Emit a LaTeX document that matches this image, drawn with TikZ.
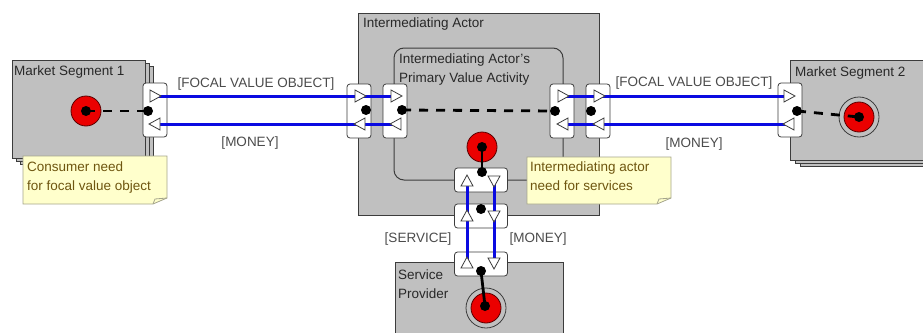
\documentclass[tikz,border=0pt]{standalone}
\usepackage{fontspec}
\setmainfont{Liberation Sans}
\definecolor{boxgray}{RGB}{192,192,192}
\definecolor{boxline}{RGB}{60,60,60}
\definecolor{flowblue}{RGB}{10,10,225}
\definecolor{stimred}{RGB}{235,0,0}
\definecolor{stimline}{RGB}{90,0,0}
\definecolor{noteyellow}{RGB}{255,255,204}
\definecolor{noteline}{RGB}{165,165,140}
\definecolor{notetext}{RGB}{110,85,15}
\definecolor{titletext}{RGB}{40,40,40}
\definecolor{flowtext}{RGB}{75,75,75}

\tikzset{
  actorbox/.style   = {draw=boxline, fill=boxgray, line width=1pt},
  portbox/.style    = {draw=boxline, fill=white, rounded corners=3pt, line width=0.8pt, inner sep=0pt},
  vport/.style      = {portbox, minimum width=24pt, minimum height=54pt},
  hport/.style      = {portbox, minimum width=53pt, minimum height=24pt},
  portdot/.style    = {circle, fill=black, inner sep=0pt, minimum size=10pt},
  flow/.style       = {draw=flowblue, line width=3pt},
  dependency/.style = {draw=black, line width=2.8pt},
  dashdep/.style    = {dependency, dash pattern=on 9pt off 8pt},
  startstim/.style  = {circle, draw=stimline, fill=stimred, line width=0.8pt, minimum size=30pt, inner sep=0pt},
  endring/.style    = {circle, draw=boxline, fill=boxgray, line width=0.8pt, minimum size=40pt, inner sep=0pt},
  boxtitle/.style   = {anchor=north west, inner sep=0pt, text=titletext, align=left},
  notetitle/.style  = {anchor=north west, inner sep=0pt, text=notetext, align=left},
  flowname/.style   = {anchor=base, inner sep=0pt, text=flowtext},
  notebox/.style    = {draw=noteline, fill=noteyellow, line width=0.8pt},
  tri/.pic          = {\filldraw[draw=boxline, fill=white, line width=0.8pt] (-5,-6) -- (6,0) -- (-5,6) -- cycle;}
}

\begin{document}
\begin{tikzpicture}[x=1pt, y=-1pt, font=\fontsize{13.5}{19}\selectfont]
        \useasboundingbox (0,0) rectangle (923,332);
        % actors and market segments
            \filldraw[actorbox] ( 20, 66) rectangle (153,164);
            \filldraw[actorbox] ( 16, 63) rectangle (149,161);
            \filldraw[actorbox] ( 12, 60) rectangle (145,158);
            \filldraw[actorbox] (800, 66) rectangle (945,166);
            \filldraw[actorbox] (795, 63) rectangle (940,163);
            \filldraw[actorbox] (790, 60) rectangle (935,160);
            \filldraw[actorbox] (358, 13) rectangle (599,215);
            \filldraw[actorbox] (395,262) rectangle (563,345);
            \draw[boxline, line width=1pt, rounded corners=10pt] (394,48) rectangle (563,180);
        \node[boxtitle] (ms1title) at ( 14, 65.3) {Market Segment 1};
        \node[boxtitle] (ms2title) at (795, 66.3) {Market Segment 2};
        \node[boxtitle] (iatitle)  at (363, 17.3) {Intermediating Actor};
        \node[boxtitle] (pvtitle)  at (399, 53.3) {Intermediating Actor\symbol{"27}s\\Primary Value Activity};
        \node[boxtitle] (sptitle)  at (398,269.3) {Service\\Provider};
        % notes
            \filldraw[notebox] ( 23,156) -- (167,156) -- (167,198) -- (153,204) -- ( 23,204) -- cycle;
            \draw[noteline, line width=0.8pt] (167,198) -- (155,199) -- (153,204);
            \filldraw[notebox] (527,157) -- (671,157) -- (671,198) -- (657,204) -- (527,204) -- cycle;
            \draw[noteline, line width=0.8pt] (671,198) -- (659,199) -- (657,204);
        \node[notetitle] (ms1note) at ( 27,161.2) {Consumer need\\for focal value object};
        \node[notetitle] (ianote)  at (530,161.2) {Intermediating actor\\need for services};
        % ports
        \node[vport] (pms1) at (155,110) {};
        \node[vport] (pial) at (359,111) {};
        \node[vport] (ppvl) at (395,111) {};
        \node[vport] (ppvr) at (562,111) {};
        \node[vport] (piar) at (598,111) {};
        \node[vport] (pms2) at (790,110) {};
        \node[hport] (ppvb) at (481,180) {};
        \node[hport] (piab) at (481,216) {};
        \node[hport] (psp)  at (481,264) {};
        % value exchanges
        \coordinate (ms1out) at (155, 96);  \coordinate (ms1in) at (155,124);
        \coordinate (ialout) at (360, 96);  \coordinate (ialin) at (360,124);
        \coordinate (pvlout) at (396, 96);  \coordinate (pvlin) at (396,124);
        \coordinate (pvrout) at (563, 96);  \coordinate (pvrin) at (563,124);
        \coordinate (iarout) at (599, 96);  \coordinate (iarin) at (599,124);
        \coordinate (ms2out) at (789, 96);  \coordinate (ms2in) at (789,124);
        \coordinate (pvbsv)  at (467,181);  \coordinate (pvbmo) at (494,181);
        \coordinate (iabsv)  at (467,216);  \coordinate (iabmo) at (494,216);
        \coordinate (spsv)   at (467,263);  \coordinate (spmo)  at (494,263);
            \draw[flow] (ms1out) -- (ialout) -- (pvlout);
            \draw[flow] (ms1in)  -- (ialin)  -- (pvlin);
            \draw[flow] (pvrout) -- (iarout) -- (ms2out);
            \draw[flow] (pvrin)  -- (iarin)  -- (ms2in);
            \draw[flow] (pvbsv)  -- (iabsv)  -- (spsv);
            \draw[flow] (pvbmo)  -- (iabmo)  -- (spmo);
        \foreach \c in {ms1out, ialout, pvlout, pvrout, iarout, ms2out}
            \pic at (\c) {tri};
        \foreach \c in {ms1in, ialin, pvlin, pvrin, iarin, ms2in}
            \pic[rotate=180] at (\c) {tri};
        \foreach \c in {pvbsv, iabsv, spsv}
            \pic[rotate=90] at (\c) {tri};
        \foreach \c in {pvbmo, iabmo, spmo}
            \pic[rotate=-90] at (\c) {tri};
        \node[flowname] (fvo1)  at (256, 87) {[FOCAL VALUE OBJECT]};
        \node[flowname] (mon1)  at (250,146) {[MONEY]};
        \node[flowname] (fvo2)  at (694, 86) {[FOCAL VALUE OBJECT]};
        \node[flowname] (mon2)  at (694,147) {[MONEY]};
        \node[flowname] (serv)  at (418,242) {[SERVICE]};
        \node[flowname] (mon3)  at (538,242) {[MONEY]};
        % stimuli
        \node[startstim] (ms1need) at ( 86,111) {};
        \node[startstim] (ianeed)  at (482,147) {};
        \node[endring]   (ms2ring) at (859,117) {};
        \node[startstim] (ms2end)  at (859,117) {};
        \node[endring]   (spring)  at (486,308) {};
        \node[startstim] (spend)   at (486,308) {};
        % dots and dependency paths
        \node[portdot] (dms1need) at ( 86,111) {};
        \node[portdot] (dianeed)  at (482,147) {};
        \node[portdot] (dms2end)  at (859,117) {};
        \node[portdot] (dspend)   at (485,306) {};
        \node[portdot] (dpms1)    at (148,111) {};
        \node[portdot] (dpial)    at (366,110) {};
        \node[portdot] (dppvl)    at (402,110) {};
        \node[portdot] (dppvr)    at (555,111) {};
        \node[portdot] (dpiar)    at (591,111) {};
        \node[portdot] (dpms2)    at (797,111) {};
        \node[portdot] (dppvb)    at (482,172) {};
        \node[portdot] (dpiab)    at (481,209) {};
        \node[portdot] (dpsp)     at (481,271) {};
            \draw[dashdep]    (dms1need.center) -- (dpms1.center);
            \draw[dashdep]    (dppvl.center)    -- (dppvr.center);
            \draw[dashdep]    (dpms2.center)    -- (dms2end.center);
            \draw[dependency] (dianeed.center)  -- (dppvb.center);
            \draw[dependency] (dpsp.center)     -- (dspend.center);
\end{tikzpicture}
\end{document}
